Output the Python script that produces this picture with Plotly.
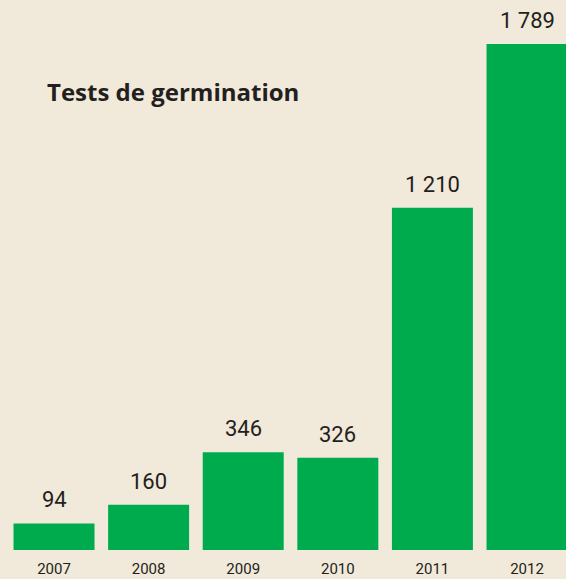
import plotly.graph_objects as go

years = ["2007", "2008", "2009", "2010", "2011", "2012"]
tests = [94, 160, 346, 326, 1210, 1789]
value_labels = ["94", "160", "346", "326", "1 210", "1 789"]
title_text = "Tests de germination"

BG = "#f1e9d9"
GREEN = "#00ab4e"
INK = "#231f20"
FONT = "Roboto"

fig = go.Figure()
fig.add_trace(go.Bar(
    x=years, y=tests,
    marker=dict(color=GREEN, line=dict(width=0)),
    hoverinfo="skip",
))

for i, (v, lab) in enumerate(zip(tests, value_labels)):
    fig.add_annotation(
        x=i, y=v, xref="x", yref="y", text=lab, showarrow=False,
        xanchor="center", yanchor="bottom", yshift=9,
        font=dict(family=FONT, size=22, color=INK),
    )

fig.add_annotation(
    x=45 / 566, y=(550 - 92) / 550, xref="paper", yref="paper",
    text="<b>" + title_text + "</b>",
    showarrow=False, xanchor="left", yanchor="middle",
    font=dict(family="Open Sans", size=24, color=INK),
)

fig.update_layout(
    width=566, height=579,
    margin=dict(l=0, r=0, t=0, b=29, autoexpand=False),
    paper_bgcolor=BG, plot_bgcolor=BG,
    bargap=0.144,
    showlegend=False,
    xaxis=dict(
        type="category", range=[-0.571, 5.412],
        showgrid=False, zeroline=False, showline=False, ticks="",
        tickfont=dict(family=FONT, size=15, color=INK),
        ticklabelstandoff=8, automargin=False,
        fixedrange=True,
    ),
    yaxis=dict(
        range=[0, 1944.6], visible=False, fixedrange=True, automargin=False,
    ),
)

fig.write_html(
    "out.html",
    config={"displayModeBar": False},
    post_script="document.body.style.margin='0';document.body.style.background='%s';" % BG,
)
